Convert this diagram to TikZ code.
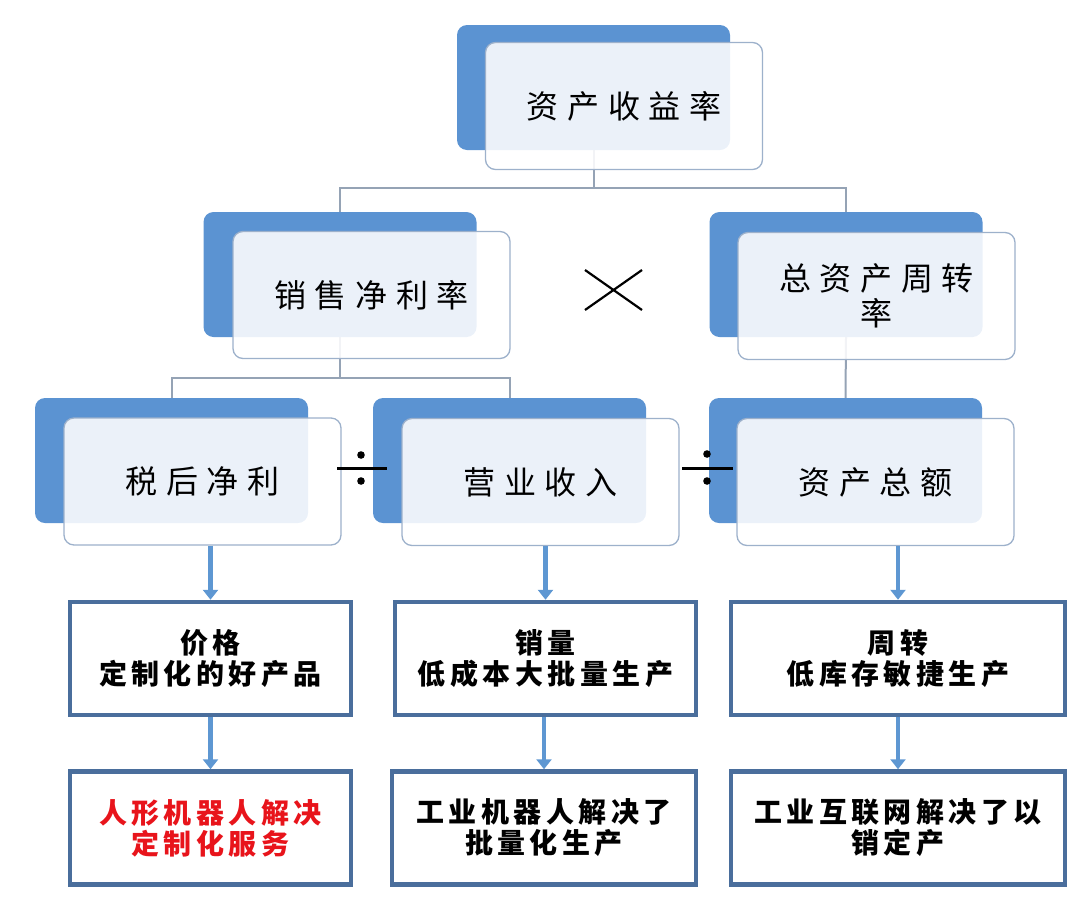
\documentclass[tikz,border=0pt]{standalone}
\usepackage{fontspec}
\newfontfamily\cjkA[LetterSpace=27]{Noto Sans CJK SC}
\newfontfamily\cjkB[LetterSpace=16]{Noto Sans CJK SC}
\usetikzlibrary{arrows.meta,backgrounds}
\definecolor{accent}{HTML}{5B93D2}
\definecolor{frontline}{HTML}{9DB1CB}
\definecolor{boxline}{HTML}{4A6E9C}
\definecolor{connc}{HTML}{95A3B5}
\definecolor{arrowc}{HTML}{5E97D2}
\definecolor{redtxt}{HTML}{E8141B}
\tikzset{
  backbox/.style={fill=accent, rounded corners=10pt, minimum width=273pt, minimum height=125pt, inner sep=0pt},
  frontbox/.style={draw=frontline, line width=1.3pt, fill=white, fill opacity=0.88, text opacity=1,
    rounded corners=10pt, minimum width=277pt, minimum height=127pt, align=center,
    font=\cjkA\fontsize{32}{35}\selectfont},
  leafbox/.style={draw=boxline, line width=4.5pt, fill=white, minimum height=113pt, align=center,
    font=\cjkB\bfseries\fontsize{28}{31}\selectfont},
  conn/.style={draw=connc, line width=2pt},
  arr/.style={draw=arrowc, line width=4.5pt, -{Triangle[width=15pt,length=10pt]}},
  opsign/.style={line width=2.2pt, draw=black}
}
\begin{document}
\begin{tikzpicture}[x=1pt,y=-1pt]
\useasboundingbox (0,0) rectangle (1086,916);
% level 1
\node[backbox] (b1) at (593.5,87.5) {};
\node[frontbox] (f1) at (624,106) {资产收益率};
% level 2
\node[backbox] (b21) at (340,274.5) {};
\node[frontbox] (f21) at (371.5,295) {销售净利率};
\node[backbox] (b22) at (846,274.5) {};
\node[frontbox] (f22) at (876.5,296) {总资产周转\\率};
% level 3
\node[backbox] (b31) at (171.5,460.5) {};
\node[frontbox] (f31) at (202.5,481.5) {税后净利};
\node[backbox] (b32) at (509.5,460.5) {};
\node[frontbox] (f32) at (540.5,482) {营业收入};
\node[backbox] (b33) at (845.5,460.5) {};
\node[frontbox] (f33) at (875.5,482) {资产总额};
% leaf boxes
\node[leafbox, minimum width=281pt] (c1) at (210.5,658.5) {价格\\定制化的好产品};
\node[leafbox, minimum width=301pt] (c2) at (545.5,658.5) {销量\\低成本大批量生产};
\node[leafbox, minimum width=334pt] (c3) at (898,658.5) {周转\\低库存敏捷生产};
\node[leafbox, minimum width=281pt, text=redtxt] (d1) at (210.5,828) {人形机器人解决\\定制化服务};
\node[leafbox, minimum width=304pt] (d2) at (544,828) {工业机器人解决了\\批量化生产};
\node[leafbox, minimum width=334pt] (d3) at (898,828) {工业互联网解决了以\\销定产};
% junctions
\coordinate (j1) at (593.5,188);
\coordinate (j2) at (340,378);
\begin{scope}[on background layer]
  \draw[conn] (b1.south) -- (j1);
  \draw[conn] (b21.north) -- (b21.north |- j1) -- (b22.north |- j1) -- (b22.north);
  \draw[conn] (b21.south) -- (j2);
  \draw[conn] (b31.north) -- (b31.north |- j2) -- (b32.north |- j2) -- (b32.north);
  \draw[conn] (b22.south) -- (b33.north);
\end{scope}
% arrows
\draw[arr] (f31.south -| c1.north) -- (c1.north);
\draw[arr] (f32.south -| c2.north) -- (c2.north);
\draw[arr] (f33.south -| c3.north) -- (c3.north);
\draw[arr] (c1.south) -- (d1.north);
\draw[arr] (c2.south -| d2.north) -- (d2.north);
\draw[arr] (c3.south) -- (d3.north);
% multiply sign
\draw[opsign] (585,270) -- (642,310);
\draw[opsign] (585,310) -- (642,270);
% divide signs
\draw[line width=3pt] (337,468) -- (387,468);
\fill (361,455) circle (3.8pt);
\fill (361,481) circle (3.8pt);
\draw[line width=3pt] (682,468) -- (733,468);
\fill (707,454) circle (3.8pt);
\fill (707,481) circle (3.8pt);
\end{tikzpicture}
\end{document}
